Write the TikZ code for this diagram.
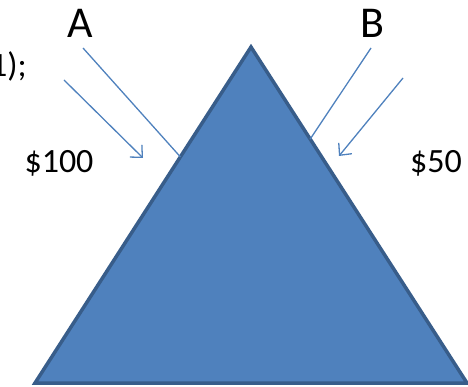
\documentclass[tikz,border=0pt]{standalone}
\usepackage{fontspec}
\setmainfont{Carlito}
\usepackage{xcolor}
\usepackage{tikz}
\usetikzlibrary{arrows.meta,calc}

\definecolor{accent}{HTML}{4F81BD}
\definecolor{accentdark}{HTML}{385D8A}

\begin{document}
\begin{tikzpicture}[
  tri/.style={draw=accentdark, fill=accent, line width=3.5pt},
  ray/.style={draw=accent, line width=1.3pt},
  pay/.style={ray, -{Straight Barb[length=9pt,width=17pt]}},
  big/.style={font=\fontsize{44}{44}\selectfont, anchor=base},
  amt/.style={font=\fontsize{34}{34}\selectfont, anchor=base},
  x=1pt,y=-1pt
]
\useasboundingbox (0,0) rectangle (468,387);
% triangle
\coordinate (apex) at (251,47);
\coordinate (bl) at (35,383);
\coordinate (br) at (467,383);
\draw[tri] (bl) -- (apex) -- (br) -- cycle;
% labels
\node[amt, anchor=base east, inner sep=0pt] (code) at (27,77) {1);};
\node[big] (A) at (80.5,38) {A};
\node[big] (B) at (372,38) {B};
\node[amt] (pA) at (59,173) {\$100};
\node[amt] (pB) at (436,173) {\$50};
% rays onto the sides
\coordinate (a0) at (83,48);
\coordinate (a1) at ($(apex)!0.327!(bl)$);
\draw[ray] (a0) -- (a1);
\coordinate (b0) at (371,48);
\coordinate (b1) at ($(apex)!0.274!(br)$);
\draw[ray] (b0) -- (b1);
% payments
\coordinate (p0) at (64,80);
\coordinate (p1) at (143,158);
\draw[pay] (p0) -- (p1);
\coordinate (q0) at (403,78);
\coordinate (q1) at (339,156);
\draw[pay] (q0) -- (q1);
\end{tikzpicture}
\end{document}
